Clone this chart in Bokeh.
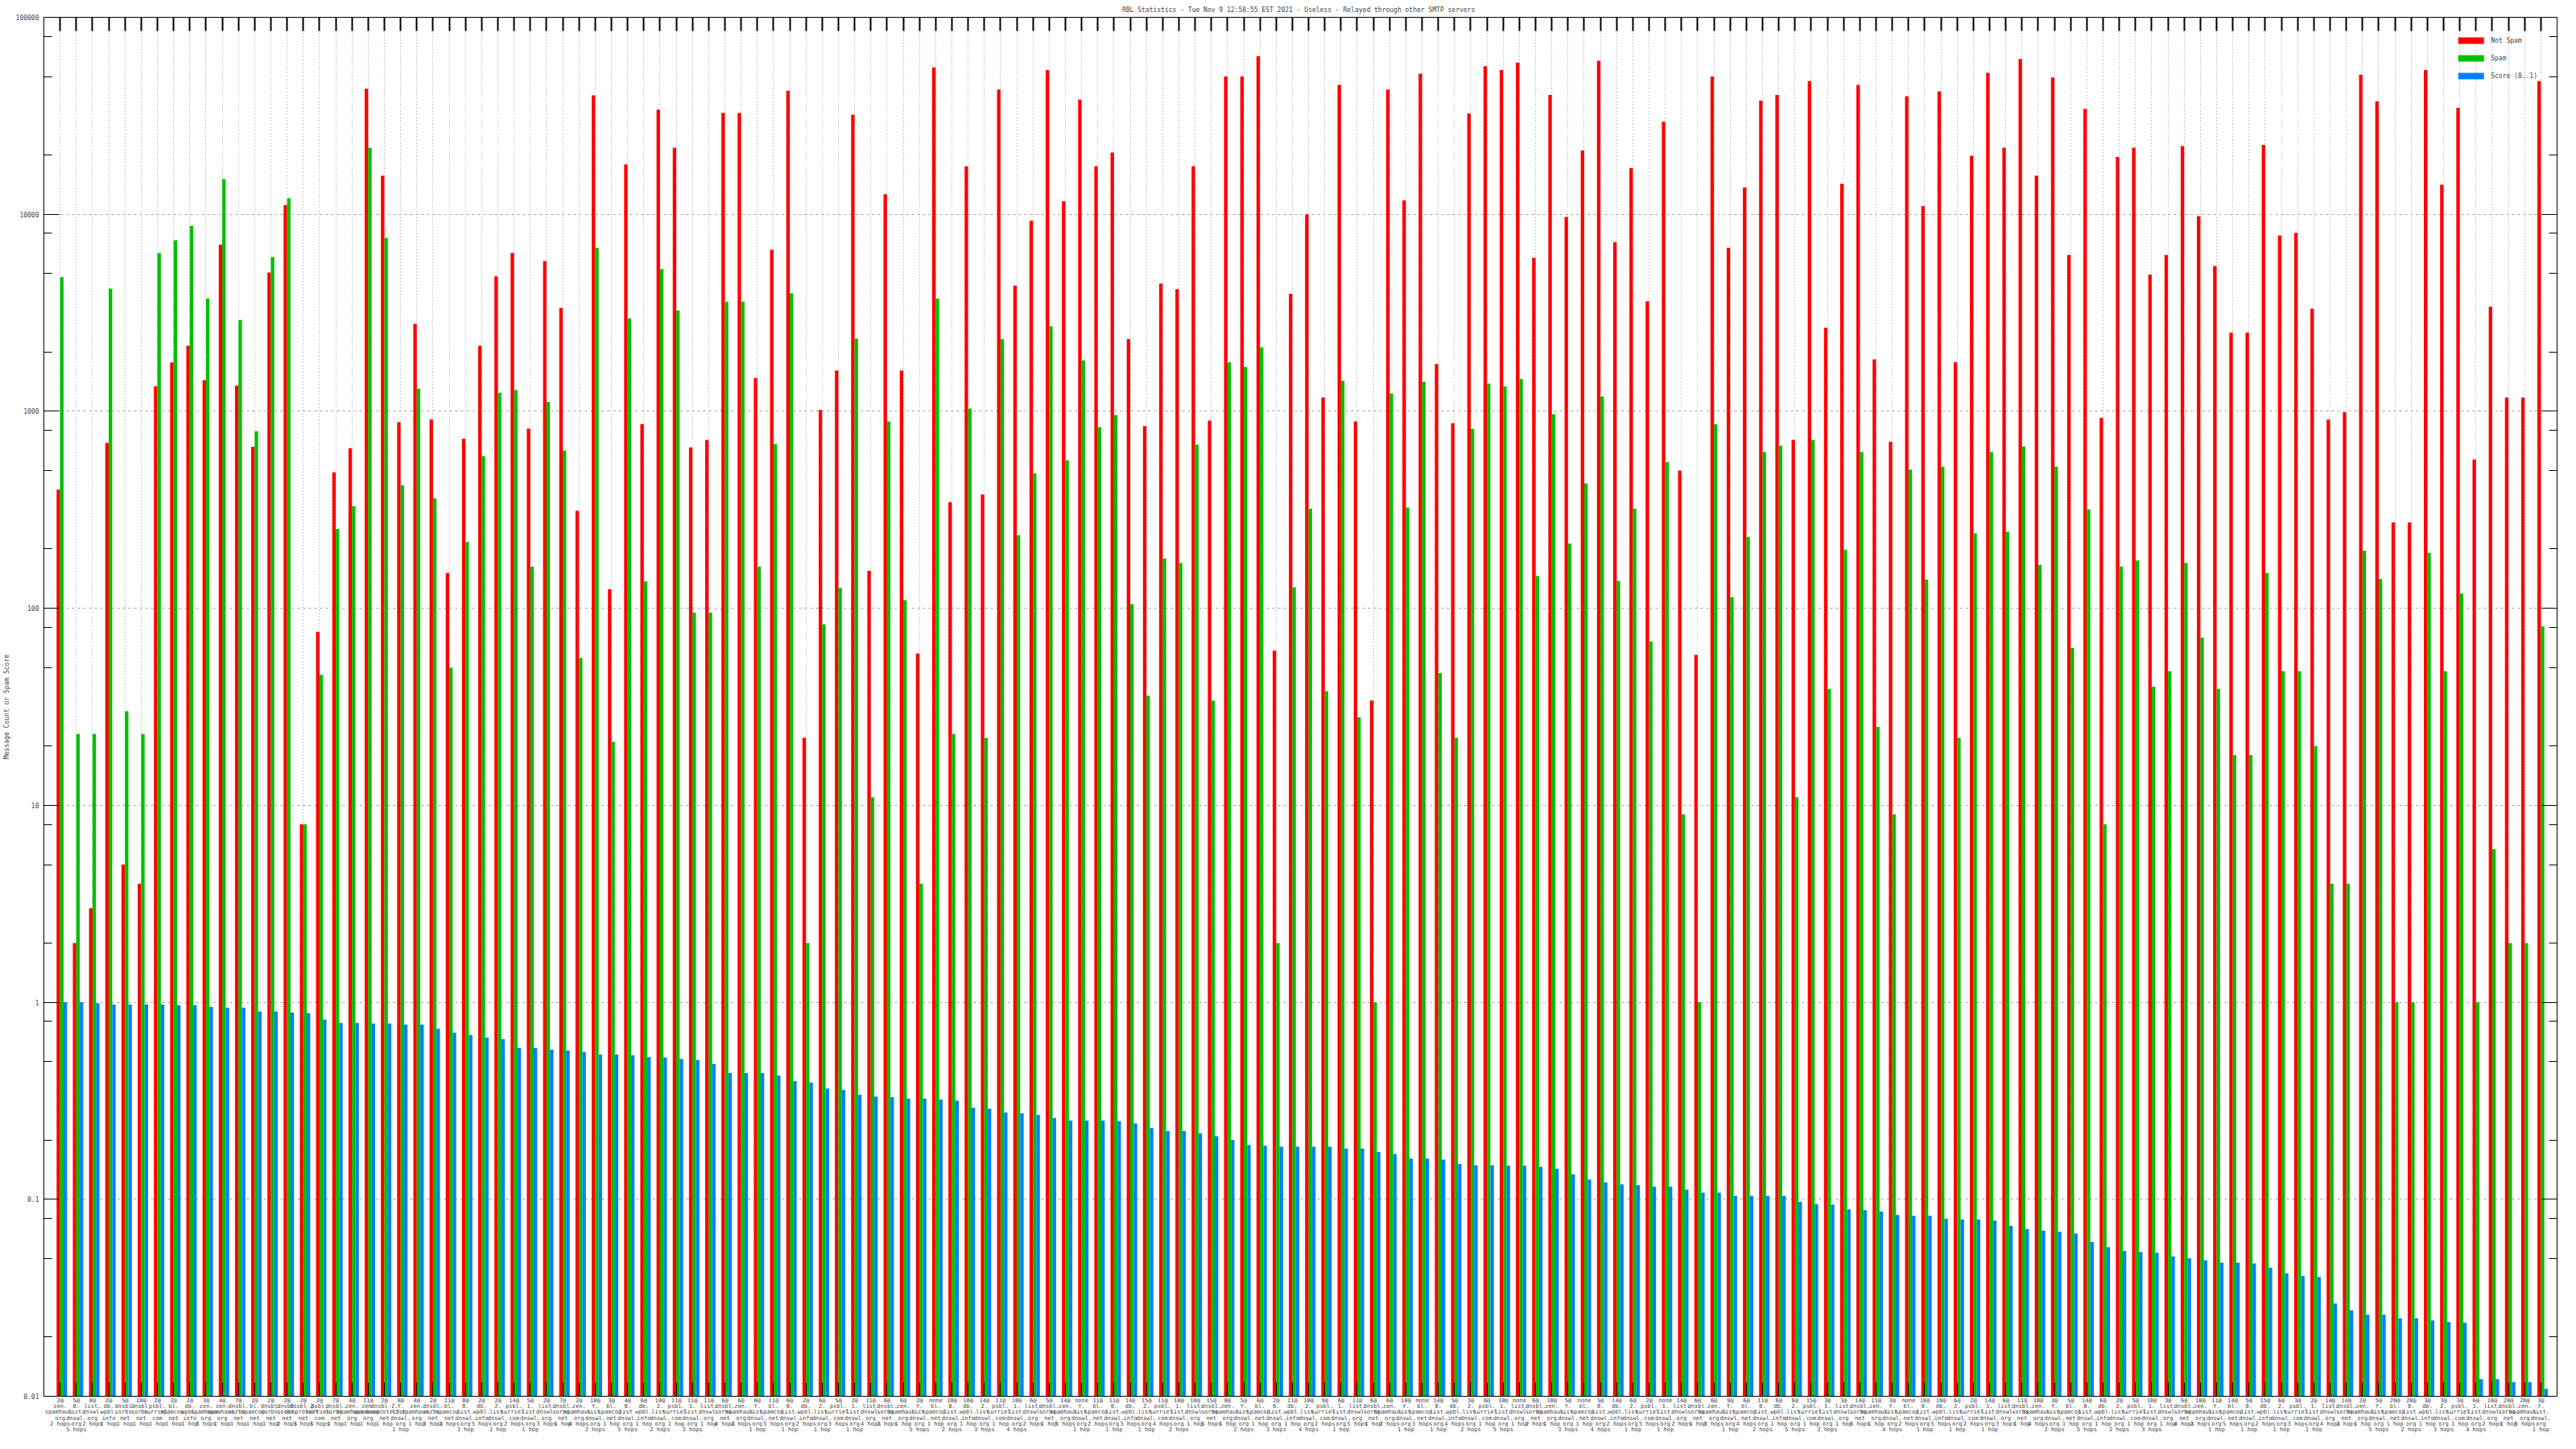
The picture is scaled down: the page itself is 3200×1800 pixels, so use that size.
from bokeh.plotting import figure
from bokeh.models import FixedTicker, LogAxis, LinearAxis, Range1d, ColumnDataSource
from bokeh.transform import dodge
from bokeh.embed import file_html
from bokeh.resources import INLINE

title_text = "RBL Statistics - Tue Nov  9 12:58:55 EST 2021 - Useless - Relayed through other SMTP servers"

not_spam = [400, 2, 3, 690, 5, 4, 1340, 1770, 2150, 1440, 7000, 1350, 660, 5070, 11150, 8, 76, 490, 650, 43400,
            15700, 880, 2780, 910, 151, 726, 2150, 4840, 6360, 816, 5790, 3350, 313, 40100, 125, 17900, 862, 34000, 21800, 656,
            715, 32700, 32700, 1477, 6610, 42400, 22, 1016, 1610, 32000, 155, 12640, 1610, 59, 55700, 346, 17540, 378, 43000, 4350,
            9270, 54000, 11640, 38200, 17540, 20600, 2323, 841, 4450, 4170, 17540, 897, 50100, 50100, 63500, 61, 3950, 10000, 1175, 45400,
            888, 34, 43000, 11750, 51700, 1735, 869, 32500, 56400, 54000, 58900, 6020, 40300, 9690, 21100, 60200, 7230, 17170, 3620, 29500,
            500, 58, 50100, 6770, 13700, 37800, 40300, 715, 47400, 2650, 14290, 45400, 1832, 700, 39800, 11000, 42100, 1774, 19800, 52300,
            21800, 61500, 15700, 49500, 6210, 34300, 927, 19560, 21800, 4950, 6210, 22200, 9790, 5460, 2506, 2506, 22500, 7800, 8050, 3320,
            908, 989, 51100, 37400, 273, 273, 54000, 14130, 34700, 570, 3395, 1175, 1175, 47400]

spam = [4800, 23, 23, 4200, 30, 23, 6360, 7380, 8750, 3740, 15100, 2910, 791, 6070, 12060, 8, 46, 253, 330, 21800,
        7600, 421, 1304, 362, 50, 217, 593, 1244, 1283, 163, 1115, 631, 56, 6770, 21, 2960, 137, 5270, 3250, 95,
        95, 3600, 3600, 163, 682, 3980, 2, 83, 127, 2340, 11, 889, 110, 4, 3740, 23, 1033, 22, 2323, 235,
        484, 2700, 564, 1812, 832, 958, 105, 36, 179, 170, 678, 34, 1774, 1680, 2110, 2, 128, 321, 38, 1429,
        28, 1, 1228, 325, 1413, 47, 22, 815, 1383, 1339, 1459, 146, 968, 213, 430, 1189, 138, 321, 68, 552,
        9, 1, 859, 114, 230, 622, 670, 11, 715, 39, 198, 622, 25, 9, 506, 140, 523, 22, 240, 622,
        245, 663, 166, 523, 63, 318, 8, 163, 175, 40, 48, 170, 71, 39, 18, 18, 151, 48, 48, 20,
        4, 4, 196, 141, 1, 1, 191, 48, 119, 1, 6, 2, 2, 81]

score = [1.0, 1.0, 0.989, 0.975, 0.975, 0.975, 0.975, 0.968, 0.968, 0.947, 0.94, 0.94, 0.897, 0.897, 0.888, 0.882, 0.817, 0.785, 0.785, 0.779,
         0.779, 0.771, 0.771, 0.736, 0.702, 0.682, 0.662, 0.65, 0.586, 0.586, 0.575, 0.569, 0.56, 0.543, 0.543, 0.539, 0.527, 0.524, 0.515, 0.509,
         0.486, 0.437, 0.437, 0.437, 0.425, 0.398, 0.391, 0.365, 0.359, 0.339, 0.332, 0.33, 0.324, 0.324, 0.321, 0.317, 0.292, 0.288, 0.276, 0.273,
         0.268, 0.259, 0.251, 0.251, 0.251, 0.249, 0.243, 0.23, 0.222, 0.222, 0.216, 0.209, 0.2, 0.189, 0.187, 0.185, 0.185, 0.185, 0.185, 0.181,
         0.181, 0.174, 0.17, 0.161, 0.161, 0.159, 0.151, 0.149, 0.149, 0.148, 0.148, 0.146, 0.143, 0.134, 0.126, 0.122, 0.119, 0.118, 0.116, 0.116,
         0.112, 0.108, 0.108, 0.104, 0.104, 0.104, 0.104, 0.097, 0.0946, 0.094, 0.089, 0.088, 0.0866, 0.0832, 0.0824, 0.0824, 0.0797, 0.079, 0.079, 0.078,
         0.0734, 0.0707, 0.0693, 0.0685, 0.067, 0.0607, 0.0571, 0.0547, 0.054, 0.0535, 0.0513, 0.0502, 0.049, 0.0477, 0.0477, 0.0472, 0.045, 0.0421, 0.0408, 0.0403,
         0.0296, 0.0273, 0.0259, 0.0259, 0.0249, 0.0249, 0.0243, 0.0238, 0.0236, 0.0122, 0.0122, 0.0118, 0.0118, 0.0109]

thresholds = ["2@", "5@", "0@", "2@", "5@", "10@", "2@", "2@", "2@", "3@", "4@", "7@", "2@", "2@", "2@", "2@", "2@", "7@", "4@", "11@",
              "2@", "8@", "4@", "2@", "11@", "8@", "2@", "2@", "14@", "5@", "2@", "7@", "2@", "10@", "3@", "4@", "6@", "10@", "11@", "11@",
              "11@", "6@", "6@", "0@", "11@", "6@", "2@", "6@", "5@", "2@", "11@", "6@", "6@", "2@", "none", "10@", "10@", "14@", "11@", "10@",
              "6@", "5@", "14@", "none", "11@", "11@", "14@", "15@", "11@", "10@", "10@", "15@", "0@", "5@", "6@", "2@", "11@", "10@", "9@", "6@",
              "11@", "6@", "6@", "10@", "none", "14@", "5@", "3@", "6@", "10@", "none", "6@", "10@", "5@", "none", "5@", "14@", "6@", "2@", "none",
              "14@", "6@", "6@", "9@", "6@", "11@", "6@", "6@", "15@", "3@", "3@", "14@", "11@", "3@", "none", "10@", "10@", "6@", "2@", "14@",
              "6@", "11@", "10@", "3@", "5@", "14@", "6@", "2@", "5@", "10@", "3@", "6@", "10@", "11@", "14@", "5@", "15@", "6@", "3@", "2@",
              "14@", "14@", "2@", "5@", "20@", "20@", "3@", "3@", "3@", "6@", "10@", "20@", "20@", "3@"]

hosts = ["zen.spamhaus.org", "0.list.dnswl.org", "list.dnswl.org", "db.wpbl.info", "dnsbl.sorbs.net", "dnsbl.sorbs.net",
         "psbl.surriel.com", "bl.spamcop.net", "db.wpbl.info", "zen.spamhaus.org", "zen.spamhaus.org", "dnsbl.sorbs.net",
         "bl.spamcop.net", "dnsbl.sorbs.net", "dnsbl.sorbs.net", "dnsbl-2.uceprotect.net", "psbl.surriel.com", "dnsbl.sorbs.net",
         "zen.spamhaus.org", "zen.spamhaus.org", "dnsbl-2.uceprotect.net", "Y.list.dnswl.org", "zen.spamhaus.org", "dnsbl.sorbs.net"]
hosts_cycle = ["list.dnswl.org", "dnsbl.sorbs.net", "zen.spamhaus.org", "Y.list.dnswl.org", "bl.spamcop.net",
               "0.list.dnswl.org", "db.wpbl.info", "2.list.dnswl.org", "psbl.surriel.com", "1.list.dnswl.org"]
hops = ["2 hops", "5 hops", "2 hops", "1 hop", "1 hop", "1 hop", "1 hop", "1 hop", "1 hop", "3 hops", "1 hop", "1 hop",
        "1 hop", "1 hop", "2 hops", "3 hops", "3 hops", "1 hop", "1 hop", "1 hop", "1 hop", "1 hop", "1 hop", "3 hops"]
hops_cycle = ["1 hop", "2 hops", "1 hop", "3 hops", "1 hop", "4 hops", "2 hops", "1 hop", "5 hops"]

n = len(not_spam)
idx = list(range(n))


def host_of(i):
    return hosts[i] if i < len(hosts) else hosts_cycle[i % len(hosts_cycle)]


def hops_of(i):
    return hops[i] if i < len(hops) else hops_cycle[i % len(hops_cycle)]


def make_label(i):
    parts = host_of(i).split(".")
    lines = [p_ + "." for p_ in parts[:-1]] + [parts[-1]]
    return "\n".join([thresholds[i]] + lines + [hops_of(i)])


tick_labels = {i: make_label(i) for i in idx}

src = ColumnDataSource(dict(x=idx, ns=not_spam, sp=spam, sc=score))

p = figure(width=3184, height=1786, y_axis_type="log",
           x_range=Range1d(-1, n), y_range=Range1d(0.01, 100000),
           output_backend="svg", toolbar_location=None,
           min_border_left=47, min_border_right=8, min_border_top=19, min_border_bottom=52)

mono = "DejaVu Sans Mono"
p.title.text = title_text
p.title.align = "center"
p.title.text_font = mono
p.title.text_font_size = "8px"
p.title.text_font_style = "normal"

bw = 0.214
p.vbar(x=dodge("x", -0.107), top="ns", bottom=0.01, width=bw, source=src,
       fill_color="#ff0000", line_color=None, legend_label="Not Spam")
p.vbar(x=dodge("x", 0.107), top="sp", bottom=0.01, width=bw, source=src,
       fill_color="#00c000", line_color=None, legend_label="Spam")
p.vbar(x=dodge("x", 0.321), top="sc", bottom=0.01, width=bw, source=src,
       fill_color="#0080ff", line_color=None, legend_label="Score (0..1)")

major_y = [0.01, 0.1, 1, 10, 100, 1000, 10000, 100000]
minor_y = [k * 10.0 ** e for e in range(-2, 5) for k in (2, 5, 8)]
y_ticker = FixedTicker(ticks=major_y, minor_ticks=minor_y)
x_ticker = FixedTicker(ticks=idx)

yax = p.yaxis[0]
yax.ticker = y_ticker
yax.major_label_overrides = {0.01: "0.01", 0.1: "0.1", 1: "1", 10: "10", 100: "100",
                             1000: "1000", 10000: "10000", 100000: "100000"}
yax.major_label_text_font = mono
yax.major_label_text_font_size = "8px"
yax.major_tick_in = 19
yax.major_tick_out = 0
yax.minor_tick_in = 10
yax.minor_tick_out = 0
yax.major_label_standoff = 6
yax.axis_label = "Message Count or Spam Score"
yax.axis_label_text_font = mono
yax.axis_label_text_font_size = "8px"
yax.axis_label_text_font_style = "normal"
yax.axis_label_standoff = 4

xax = p.xaxis[0]
xax.ticker = x_ticker
xax.major_label_overrides = tick_labels
xax.major_label_text_font = mono
xax.major_label_text_font_size = "7px"
xax.major_label_text_line_height = 0.92
xax.major_tick_in = 17
xax.major_tick_out = 0
xax.minor_tick_line_color = None
xax.major_label_standoff = 1

right_ax = LogAxis(ticker=y_ticker, major_label_text_font_size="1px", major_label_text_color=None,
                   major_tick_in=19, major_tick_out=0, minor_tick_in=10, minor_tick_out=0, major_label_standoff=0)
p.add_layout(right_ax, "right")
top_ax = LinearAxis(ticker=x_ticker, major_label_text_font_size="1px", major_label_text_color=None,
                    major_tick_in=17, major_tick_out=0, minor_tick_line_color=None, major_label_standoff=0,
                    major_tick_line_width=2)
p.add_layout(top_ax, "above")

p.xgrid.ticker = x_ticker
p.xgrid.grid_line_color = "#909090"
p.xgrid.grid_line_dash = "1 3"
p.ygrid.ticker = FixedTicker(ticks=major_y)
p.ygrid.grid_line_color = "#a0a0a0"
p.ygrid.grid_line_dash = "3 4"
p.outline_line_color = "black"

lg = p.legend[0]
lg.location = "top_right"
lg.glyph_width = 40
lg.glyph_height = 10
lg.label_text_font = mono
lg.label_text_font_size = "8px"
lg.label_height = 10
lg.spacing = 12
lg.border_line_color = None
lg.background_fill_alpha = 0
lg.margin = 24
lg.padding = 6

open("out.html", "w").write(file_html(p, INLINE))
